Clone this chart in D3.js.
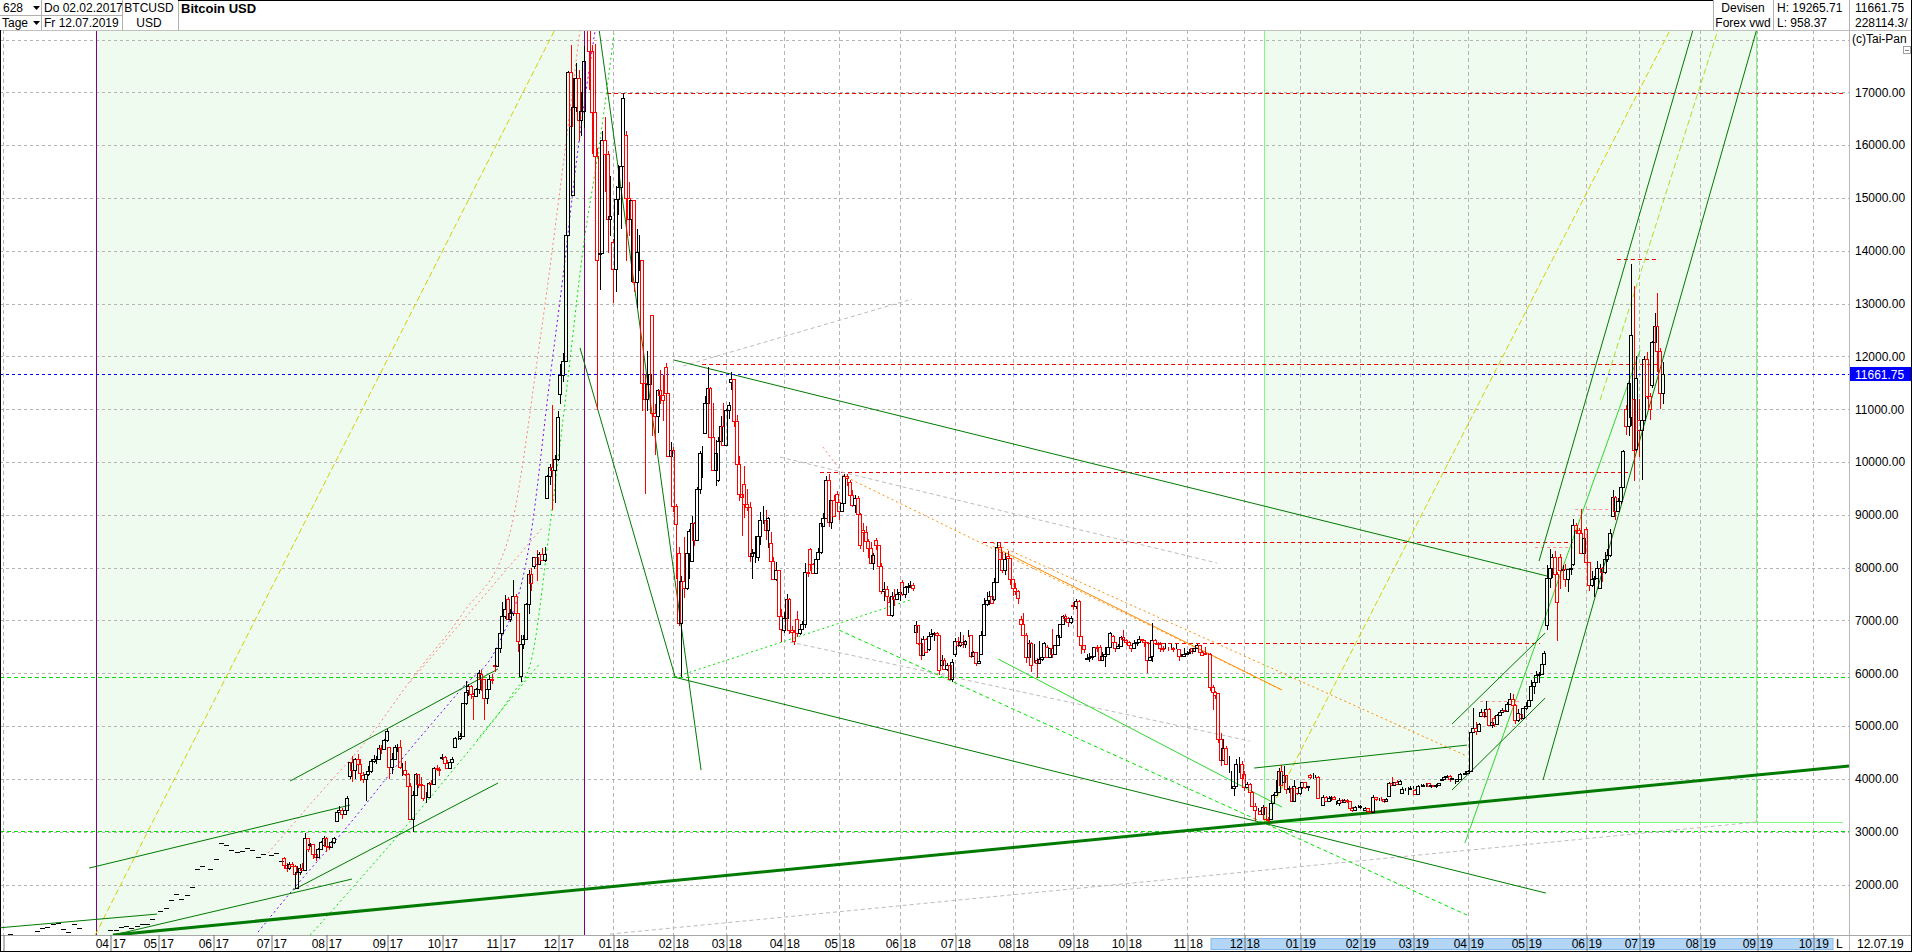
<!DOCTYPE html>
<html><head><meta charset="utf-8">
<script src="https://cdn.jsdelivr.net/npm/d3@7"></script>
<style>
html,body{margin:0;padding:0;background:#fff;overflow:hidden}
svg{display:block}
text{font-family:"Liberation Sans",Arial,sans-serif;font-size:12px;fill:#000}
.narrow{font-family:"Liberation Sans Narrow","Arial Narrow","Liberation Sans",sans-serif}
</style></head><body>
<svg id="chart" width="1912" height="952"></svg>
<script>
// ================= DATA =================
const PRICE_UNIT = 10; // candle / flat-bar values are given in units of 10 USD
const missingDays = ["2017-02-20","2017-04-14","2017-04-17","2017-05-01","2017-05-29"];

// early sparse quotes (open = high = low = close)
const flatBars = [
["2017-02-03",103],["2017-02-07",106],["2017-02-09",99],["2017-02-13",100],["2017-02-15",101],["2017-02-17",105],["2017-02-22",112],["2017-02-24",117],["2017-02-28",119],
["2017-03-02",126],["2017-03-06",128],["2017-03-08",115],["2017-03-10",110],["2017-03-14",125],["2017-03-16",117],["2017-03-20",105],["2017-03-22",105],["2017-03-24",94],["2017-03-28",104],["2017-03-30",104],
["2017-04-03",114],["2017-04-05",113],["2017-04-07",119],["2017-04-11",122],["2017-04-13",118],["2017-04-19",122],["2017-04-21",125],["2017-04-25",126],["2017-04-27",134],
["2017-05-03",149],["2017-05-05",156],["2017-05-09",171],["2017-05-11",182],["2017-05-15",172],["2017-05-17",180],["2017-05-19",196],["2017-05-23",229],["2017-05-25",235],["2017-05-31",230],
["2017-06-02",248],["2017-06-06",278],["2017-06-08",275],["2017-06-12",266],["2017-06-14",262],["2017-06-16",263],["2017-06-20",270],["2017-06-22",266],["2017-06-26",252],["2017-06-28",257],
["2017-07-03",256],["2017-07-05",260],["2017-07-07",245]];

// daily candles [open, high, low, close], consecutive trading days from the given start
const m17_07 = [[250,252,229,237],[237,241,224,231],[231,242,227,238],[238,243,233,235],[235,236,214,220],[193,235,192,223],[223,238,218,232],[232,241,226,228],[228,297,227,288],[288,288,262,267],[275,278,271,276],[276,277,248,258],[258,263,245,253],[253,269,252,267],[267,282,266,280],[275,292,272,288]];
const m17_08 = [[288,290,261,272],[272,276,265,271],[271,282,270,280],[280,290,277,289],[321,342,319,338],[338,348,335,342],[342,344,324,334],[334,345,333,342],[342,368,340,363],[406,432,399,432],[432,443,394,416],[416,440,399,438],[438,448,424,428],[428,437,396,411],[408,413,393,400],[400,414,358,410],[410,425,406,415],[415,437,412,433],[433,446,431,437],[438,444,429,438],[438,464,436,458],[458,464,447,457],[457,475,457,474]];
const m17_09 = [[474,494,469,490],[460,460,400,423],[423,449,410,438],[438,464,437,460],[460,466,450,460],[460,474,418,423],[416,431,405,416],[416,434,405,410],[410,412,377,387],[387,393,322,324],[324,378,300,370],[370,412,369,410],[410,410,383,391],[391,403,386,388],[388,389,358,363],[363,375,355,363],[366,394,365,393],[393,397,389,390],[390,422,390,421],[421,426,414,419],[419,423,405,416]];
const m17_10 = [[440,447,436,441],[441,443,427,431],[431,435,418,421],[421,436,420,432],[432,442,432,437],[461,480,460,477],[477,491,474,478],[478,487,474,482],[482,543,482,543],[543,586,540,565],[568,580,557,575],[575,577,551,561],[561,563,511,557],[557,573,555,570],[570,606,561,600],[598,607,567,590],[590,590,511,553],[553,574,542,570],[570,597,568,589],[589,598,579,588],[615,630,603,613],[613,647,611,647]];
const m17_11 = [[647,690,638,677],[677,735,677,708],[708,749,703,721],[741,745,700,702],[702,721,698,714],[714,777,708,746],[746,750,708,714],[714,714,640,662],[595,673,584,656],[656,672,645,664],[664,733,664,732],[732,796,712,787],[787,800,755,771],[804,821,798,820],[820,834,775,807],[807,830,807,826],[826,838,812,815],[815,839,810,825],[932,975,931,974],[974,997,957,991],[991,1107,909,984],[984,1013,922,1006]];
const m17_12 = [[1006,1096,1002,1086],[1129,1185,1109,1164],[1164,1206,1152,1192],[1192,1435,1189,1429],[1429,1741,1429,1739],[1739,1790,1531,1637],[1506,1728,1506,1673],[1673,1756,1662,1728],[1728,1743,1608,1648],[1648,1700,1617,1664],[1664,1787,1633,1760],[1914,1926,1823,1911],[1911,1911,1704,1778],[1778,1790,1583,1662],[1662,1791,1480,1580],[1580,1594,1098,1383],[1393,1445,1325,1395],[1395,1626,1395,1610],[1610,1653,1512,1584],[1584,1588,1395,1460],[1460,1541,1428,1466]];
const m18_01 = [[1416,1422,1301,1366],[1366,1523,1322,1498],[1498,1563,1468,1520],[1520,1575,1441,1560],[1560,1698,1558,1690],[1620,1626,1381,1499],[1499,1530,1427,1460],[1460,1497,1341,1497],[1497,1497,1322,1340],[1340,1442,1292,1398],[1382,1429,1362,1382],[1382,1382,1096,1149],[1149,1167,940,1119],[1119,1210,1097,1147],[1147,1193,1118,1166],[1278,1278,1050,1093],[1093,1109,1013,1087],[1087,1139,1054,1136],[1136,1174,1110,1126],[1126,1164,1078,1117],[1179,1187,1128,1130],[1130,1130,1010,1011],[1011,1038,975,1022]];
const m18_02 = [[1022,1029,905,917],[917,921,778,883],[828,839,690,696],[696,785,593,775],[775,858,743,762],[762,836,758,827],[827,874,779,869],[813,898,813,885],[885,887,841,853],[853,952,853,948],[948,1021,940,1017],[1017,1030,969,1018],[1055,1125,1055,1112],[1112,1179,1112,1140],[1140,1142,1046,1048],[1048,1112,983,985],[985,1042,955,1018],[966,1048,962,1040],[1040,1088,1031,1069],[1069,1112,1030,1033]];
const m18_03 = [[1033,1101,1033,1098],[1098,1114,1081,1107],[1151,1171,1136,1157],[1157,1157,1066,1078],[1078,1089,955,997],[997,1011,927,940],[940,943,859,934],[958,992,894,920],[920,948,908,914],[914,924,810,822],[822,836,779,827],[827,860,809,829],[820,870,812,860],[860,905,842,890],[890,917,882,890],[890,910,852,872],[872,896,838,894],[847,867,805,813],[813,821,777,779],[779,810,775,795],[795,796,701,709],[709,722,659,684]];
const m18_04 = [[681,716,677,705],[705,751,703,741],[741,742,675,681],[681,690,660,678],[678,681,654,662],[702,718,668,677],[677,690,673,683],[683,699,681,694],[694,809,686,792],[792,818,782,789],[836,838,794,806],[806,808,787,789],[789,823,789,816],[816,838,816,829],[829,890,825,885],[879,903,878,894],[894,974,894,965],[965,977,877,887],[887,929,873,928],[928,937,897,898],[939,946,919,924]];
const m18_05 = [[924,924,890,907],[907,926,906,922],[922,978,921,974],[974,978,955,970],[962,966,929,937],[937,947,914,919],[919,937,904,931],[931,936,900,901],[901,904,835,843],[871,884,829,868],[868,879,846,851],[851,854,818,837],[837,849,808,809],[809,827,795,823],[853,857,834,842],[842,843,802,804],[804,808,751,756],[756,773,736,759],[759,765,733,746],[735,744,708,710],[710,753,706,747],[747,760,728,741],[741,760,738,750]];
const m18_06 = [[750,762,736,754],[772,776,747,750],[750,765,743,763],[763,770,752,765],[765,775,762,768],[768,770,756,762],[679,699,674,691],[691,691,654,658],[658,666,625,635],[635,671,634,664],[664,666,638,640],[646,679,642,671],[671,683,669,674],[674,679,661,677],[677,679,671,672],[672,673,596,606],[615,634,609,625],[625,629,606,609],[609,620,604,616],[616,617,589,590],[590,627,583,622]];
const m18_07 = [[636,667,630,662],[662,668,649,653],[653,678,650,660],[660,673,648,655],[655,663,647,661],[672,681,668,672],[672,673,629,632],[632,642,630,640],[640,640,613,620],[620,634,617,624],[636,680,634,672],[672,743,671,732],[732,754,727,738],[738,755,729,747],[747,762,731,733],[740,780,737,772],[772,848,770,839],[839,847,806,817],[817,829,790,795],[795,828,786,817],[822,832,791,818],[818,819,768,778]];
const m18_08 = [[778,778,746,762],[762,770,748,756],[756,757,732,742],[703,709,685,694],[694,715,671,672],[672,676,620,631],[631,663,630,657],[657,660,603,615],[626,655,620,626],[626,629,591,620],[620,661,618,627],[627,647,624,631],[631,660,630,658],[650,654,629,630],[630,648,630,647],[647,684,629,636],[636,654,636,653],[653,673,651,672],[669,694,668,693],[693,711,692,709],[709,713,697,705],[705,706,687,698],[698,709,694,705]];
const m18_09 = [[730,734,719,727],[727,740,722,737],[737,738,668,670],[670,670,636,653],[653,654,638,645],[627,637,625,629],[629,639,622,630],[630,634,625,633],[633,650,632,649],[649,653,640,648],[650,654,623,625],[625,640,625,633],[633,650,612,637],[637,652,634,649],[649,679,649,677],[671,672,657,659],[659,659,640,648],[648,656,645,651],[651,670,650,668],[668,681,661,664]];
const m18_10 = [[663,664,654,659],[659,662,650,653],[653,654,641,648],[648,663,648,658],[658,664,651,660],[660,671,659,664],[664,665,659,663],[663,663,650,659],[659,659,600,626],[626,640,623,630],[633,696,622,663],[663,664,654,658],[658,660,650,655],[655,660,640,648],[648,652,640,646],[648,658,645,648],[648,650,642,647],[647,655,646,648],[648,649,640,646],[646,655,645,646],[646,646,624,633],[633,636,630,633],[633,647,630,636]];
const m18_11 = [[636,643,634,638],[638,646,637,641],[648,648,637,642],[642,647,640,647],[647,655,646,653],[653,654,637,641],[641,642,632,635],[638,649,636,637],[637,638,632,636],[636,639,567,574],[574,578,530,565],[565,566,551,558],[562,563,468,476],[476,486,424,435],[435,475,433,459],[459,463,428,429],[429,443,412,429],[382,414,380,382],[382,394,368,386],[386,437,385,428],[428,441,411,428],[428,433,396,402]];
const m18_12 = [[409,414,378,384],[384,395,382,391],[391,392,374,376],[376,377,347,349],[349,355,321,342],[340,345,336,340],[340,342,333,334],[334,350,333,347],[347,347,323,324],[324,328,317,323],[324,360,322,354],[354,372,352,370],[370,398,370,376],[376,420,374,414],[414,427,386,388],[394,424,394,408],[408,408,372,380],[380,387,374,383],[383,384,357,358],[358,397,357,386],[383,383,370,374]];
const m19_01 = [[374,385,370,384],[384,395,381,394],[394,394,380,384],[384,387,378,386],[407,409,400,403],[403,411,400,404],[404,407,401,404],[404,406,361,363],[363,366,357,363],[351,369,350,366],[366,368,356,358],[358,367,358,363],[363,368,358,366],[366,368,360,362],[354,358,350,355],[355,363,349,360],[360,362,355,356],[356,361,355,360],[360,361,355,359],[358,359,342,344],[344,347,338,341],[341,348,340,346],[346,350,344,346]];
const m19_02 = [[346,351,343,349],[341,344,339,342],[342,346,341,344],[344,344,339,340],[340,342,337,338],[338,370,338,365],[366,366,359,361],[361,364,359,362],[362,365,359,361],[361,361,355,358],[358,364,357,361],[368,394,367,392],[392,404,386,388],[388,395,386,394],[394,397,388,390],[390,398,389,396],[374,385,372,380],[380,382,377,380],[380,384,369,381],[381,387,380,382]];
const m19_03 = [[382,386,381,383],[379,380,369,371],[371,388,370,386],[386,390,384,387],[387,391,386,388],[388,392,384,388],[393,393,384,386],[386,389,382,388],[388,389,385,387],[387,391,383,388],[388,392,388,392],[398,403,396,399],[399,405,398,403],[403,407,401,405],[405,407,395,399],[399,402,398,401],[396,397,390,396],[396,400,395,400],[400,411,399,410],[410,411,407,410],[410,414,409,411]];
const m19_04 = [[411,416,410,415],[415,497,414,488],[488,535,486,497],[497,508,484,491],[491,506,490,503],[520,532,517,527],[527,527,516,520],[520,547,518,533],[533,534,500,502],[502,510,497,507],[516,520,499,504],[504,523,503,521],[521,530,520,527],[527,535,525,530],[530,536,526,529],[529,546,528,542],[542,562,540,552],[552,560,536,540],[540,542,504,511],[511,532,508,525],[523,524,512,516],[516,535,516,534]];
const m19_05 = [[534,545,530,538],[538,556,537,549],[549,587,549,575],[575,596,560,584],[584,604,584,597],[597,602,582,598],[598,619,598,617],[617,643,617,638],[691,805,681,781],[781,836,761,799],[799,825,781,821],[821,832,769,788],[788,792,661,735],[820,826,759,796],[796,805,782,798],[798,807,763,778],[778,798,754,798],[798,812,786,800],[806,893,804,880],[880,884,864,872],[872,875,848,866],[866,911,831,828],[828,862,813,856]];
const m19_06 = [[874,876,808,810],[810,810,755,767],[767,793,764,778],[778,785,745,780],[780,812,780,800],[762,806,759,800],[800,802,773,792],[792,830,788,816],[816,835,811,824],[824,873,820,865],[897,947,895,933],[933,935,890,908],[908,932,905,927],[927,960,920,953],[953,1023,951,1021],[1100,1107,1051,1069],[1069,1160,1050,1150],[1085,1375,1069,1240],[1120,1334,964,1023],[1025,1200,1020,1160]];
const m19_07 = [[1080,1120,1010,1060],[1060,1090,965,1080],[1080,1200,1078,1195],[1195,1208,1120,1125],[1125,1130,1080,1100],[1145,1230,1140,1228],[1228,1282,1215,1258],[1258,1320,1170,1210],[1210,1215,1100,1130],[1130,1190,1110,1166]];
const candleMonths = [["2017-07-10",m17_07],["2017-08-01",m17_08],["2017-09-01",m17_09],["2017-10-02",m17_10],["2017-11-01",m17_11],["2017-12-01",m17_12],["2018-01-01",m18_01],["2018-02-01",m18_02],["2018-03-01",m18_03],["2018-04-02",m18_04],["2018-05-01",m18_05],["2018-06-01",m18_06],["2018-07-02",m18_07],["2018-08-01",m18_08],["2018-09-03",m18_09],["2018-10-01",m18_10],["2018-11-01",m18_11],["2018-12-03",m18_12],["2019-01-01",m19_01],["2019-02-01",m19_02],["2019-03-01",m19_03],["2019-04-01",m19_04],["2019-05-01",m19_05],["2019-06-03",m19_06],["2019-07-01",m19_07]];

// price-axis ticks and last quote
const yTicks = [2000,3000,4000,5000,6000,7000,8000,9000,10000,11000,12000,13000,14000,15000,16000,17000,18000];
const lastPrice = 11661.75;
const tickMonthsFrom = "2017-04", tickMonthsTo = "2019-10";

// drawing tools: points are [bar index, price]
const thickSupport = [[42.0,1042],[701.8,4243]];
const darkGreenLines = [
 [[-0.96,1181],[58.7,1440]], [[32.9,2311],[132.1,3504]], [[42.0,1042],[132.8,2103]],
 [[109.3,3959],[188.3,6080]], [[110.4,1895],[188.3,3921]],
 [[225.2,18748],[265.5,4167]], [[219.5,12158],[255.6,5938]],
 [[255.2,11931],[587.0,7841]], [[255.2,5928],[586.6,1838]],
 [[475.7,4205],[556.6,4640]], [[550.9,5038],[586.3,6761]], [[550.9,3788],[586.3,5530]],
 [[585.5,3978],[671.0,18937]], [[584.0,8125],[646.9,18937]]];
const lightGreenLines = [[[378.4,6269],[486.3,3466]], [[555.8,2785],[622.4,12120]]];
const limeDashedLines = [[[317.9,6818],[556.6,1422]]];
const limeDottedLines = [
 [[116.9,1042],[151.1,2974],[171.2,4167],[194.0,5625],[200.5,6155],[208.1,8806],[214.5,11420],[220.6,14014],[227.1,16097],[232.4,18104]],
 [[180.3,4735],[204.3,6193]], [[255.6,5928],[344.9,7386]]];
const yellowDashedLines = [[[35.2,1042],[217.6,18937]], [[479.5,3182],[641.6,18937]]];
const yellowGreenDashedLines = [[[607.2,11173],[652.0,18180]]];
const salmonDottedLines = [
 [[100.9,2595],[120.7,3732],[138.5,4735],[156.0,5928],[175.0,7140],[192.1,8522],[204.3,12310],[213.8,15907],[219.5,18199]],
 [[154.9,5833],[205.4,8768]], [[311.8,10285],[318.3,9849]]];
const purpleDottedLines = [
 [[97.1,1099],[111.2,1951],[130.9,3088],[153.7,4489],[175.0,5739],[187.9,6496],[200.5,8522],[208.1,11590],[213.0,13503],[218.3,15756],[225.2,18161]]];
const greyDashedLines = [[[258.6,11817],[345.7,13086]], [[295.5,10094],[461.6,8087]], [[299.3,6591],[474.1,4716]], [[230.9,1061],[666.4,3182]]];
const orangeDottedLines = [[[319.1,9753],[486.3,5682]], [[376.5,8466],[556.6,4432]]];
const orangeSolidLines = [[[376.5,8400],[486.3,5682]]];
const redLevels = [[16980,229.8,699.5],[11848,265.9,629.2],[9804,310.7,617.8],[8479,372.7,596.9],[6566,435.0,584.4],[13843,613.6,628.8]];
const lightRedLevels = [[9119,597.7,610.2],[8400,582.5,596.9],[5480,561.6,576.8]];
const limeLevels = [5928, 3021];
const box2017 = [35.5, 221.0, 958.37, 19265.71];
const box2019 = [479.5, 666.4, 3182, 19265.71];
const box2019BaseEnd = 699.5;

// header texts
const headerLeft = [["628",3,12],["Tage",2,27],["Do 02.02.2017",44,12],["Fr 12.07.2019",44,27]];
const headerSym = [["BTCUSD",149,12],["USD",149,27]];
const headerTitle = "Bitcoin USD";
const headerRight = [["Devisen",1743,12,"middle"],["Forex vwd",1743,27,"middle"],["H: 19265.71",1777,12,"start"],["L: 958.37",1777,27,"start"],["11661.75",1855,12,"start"],["228114.3/",1855,27,"start"]];
const lastDateLabel = "12.07.19";

// ================= LAYOUT =================
const W = 1912, H = 952, X0 = 0, X1 = 1849, Y0 = 30, Y1 = 935;
const xDomain = [-0.96, 701.8], yDomain = [1044, 18180];

// trading calendar (weekdays without missing quote days)
const days = [];
for (let t = Date.UTC(2017,1,2); t <= Date.UTC(2019,11,31); t += 864e5) {
  const d = new Date(t), wd = d.getUTCDay(), s = d.toISOString().slice(0,10);
  if (wd === 0 || wd === 6 || missingDays.includes(s)) continue;
  days.push(s);
}
const idx = new Map(days.map((s,i)=>[s,i]));

const bars = [];
flatBars.forEach(([d,v]) => bars.push({i: idx.get(d), o:v*PRICE_UNIT, h:v*PRICE_UNIT, l:v*PRICE_UNIT, c:v*PRICE_UNIT, flat:true}));
candleMonths.forEach(([start, arr]) => {
  let k = idx.get(start);
  arr.forEach(b => { bars.push({i:k, o:b[0]*PRICE_UNIT, h:b[1]*PRICE_UNIT, l:b[2]*PRICE_UNIT, c:b[3]*PRICE_UNIT}); k++; });
});

const x = d3.scaleLinear().domain(xDomain).range([X0, X1]);
const y = d3.scaleLinear().domain(yDomain).range([Y1, Y0]);
const svg = d3.select("#chart");

svg.append("defs").append("clipPath").attr("id","clip")
  .append("rect").attr("x",X0).attr("y",Y0).attr("width",X1-X0).attr("height",Y1-Y0);
const plot = svg.append("g").attr("clip-path","url(#clip)");

// tick months
const tickIdx = [0];
{
  const seen = new Set();
  days.forEach((s,i) => { const m = s.slice(0,7); if (!seen.has(m)) { seen.add(m); if (m >= tickMonthsFrom && m <= tickMonthsTo) tickIdx.push(i); } });
}

// 2019 box (below vertical grid)
const fillGreen = "#effbef";
plot.append("rect").attr("x",x(box2019[0])).attr("width",x(box2019[1])-x(box2019[0]))
  .attr("y",y(box2019[3])).attr("height",y(box2019[2])-y(box2019[3])).attr("fill",fillGreen);

// vertical grid
plot.append("g").selectAll("line").data(tickIdx).join("line")
  .attr("x1",d=>Math.round(x(d))+0.5).attr("x2",d=>Math.round(x(d))+0.5).attr("y1",Y0).attr("y2",Y1)
  .attr("stroke","#b4b4b4").attr("stroke-dasharray","4,3");

// 2017 box
plot.append("rect").attr("x",x(box2017[0])).attr("width",x(box2017[1])-x(box2017[0]))
  .attr("y",y(box2017[3])).attr("height",y(box2017[2])-y(box2017[3])).attr("fill",fillGreen);

// horizontal grid
plot.append("g").selectAll("line").data(yTicks).join("line")
  .attr("x1",X0).attr("x2",X1).attr("y1",d=>Math.round(y(d))+0.5).attr("y2",d=>Math.round(y(d))+0.5)
  .attr("stroke","#b4b4b4").attr("stroke-dasharray","3,3");

// box borders
[box2017[0], box2017[1]].forEach(i => plot.append("line").attr("x1",Math.round(x(i))+0.5).attr("x2",Math.round(x(i))+0.5)
  .attr("y1",y(box2017[3])).attr("y2",y(box2017[2])).attr("stroke","#800080"));
[box2019[0], box2019[1]].forEach(i => plot.append("line").attr("x1",Math.round(x(i))+0.5).attr("x2",Math.round(x(i))+0.5)
  .attr("y1",y(box2019[3])).attr("y2",Math.round(y(box2019[2]))+0.5).attr("stroke","#80f880"));
plot.append("line").attr("x1",x(box2019[0])).attr("x2",x(box2019BaseEnd))
  .attr("y1",Math.round(y(box2019[2]))+0.5).attr("y2",Math.round(y(box2019[2]))+0.5).attr("stroke","#80f880");

// horizontal levels
limeLevels.forEach(p => plot.append("line").attr("x1",X0).attr("x2",X1)
  .attr("y1",Math.round(y(p))+0.5).attr("y2",Math.round(y(p))+0.5).attr("stroke","#00e000").attr("stroke-dasharray","4,3"));
redLevels.forEach(([p,a,b]) => plot.append("line").attr("x1",x(a)).attr("x2",x(b))
  .attr("y1",Math.round(y(p))+0.5).attr("y2",Math.round(y(p))+0.5).attr("stroke","#ee0000").attr("stroke-dasharray","4,3"));
lightRedLevels.forEach(([p,a,b]) => plot.append("line").attr("x1",x(a)).attr("x2",x(b))
  .attr("y1",Math.round(y(p))+0.5).attr("y2",Math.round(y(p))+0.5).attr("stroke","#ff9090").attr("stroke-dasharray","3,3"));

// trend lines
const lineGen = d3.line().x(d=>x(d[0])).y(d=>y(d[1])).curve(d3.curveMonotoneX);
function drawLines(list, color, width, dash) {
  plot.append("g").selectAll("path").data(list).join("path")
    .attr("d", lineGen).attr("fill","none").attr("stroke",color).attr("stroke-width",width)
    .attr("stroke-dasharray", dash || null);
}
drawLines(greyDashedLines, "#bcbcbc", 1, "4,3");
drawLines(yellowDashedLines, "#d2d200", 1, "6,3");
drawLines(yellowGreenDashedLines, "#a6e22a", 1, "6,3");
drawLines(salmonDottedLines, "#ff7f7f", 1, "2,3");
drawLines(purpleDottedLines, "#8000ff", 1, "2,3");
drawLines(limeDottedLines, "#00e400", 1, "2,3");
drawLines(limeDashedLines, "#00e400", 1, "4,3");
drawLines(orangeDottedLines, "#ff8c00", 1, "2,3");
drawLines(orangeSolidLines, "#ff8c00", 1);
drawLines(lightGreenLines, "#2ed82e", 1);
drawLines(darkGreenLines, "#007a00", 1);
drawLines([thickSupport], "#007a00", 3);

// last price line
const yLast = Math.round(y(lastPrice)) + 0.5;
plot.append("line").attr("x1",X0).attr("x2",X1).attr("y1",yLast).attr("y2",yLast)
  .attr("stroke","#0000ff").attr("stroke-dasharray","3,3");

// candles
const gC = plot.append("g").attr("shape-rendering","crispEdges");
bars.forEach(b => {
  const cx = Math.round(x(b.i));
  const up = b.c >= b.o;
  const col = up ? "#000000" : "#ff0000";
  if (b.flat) {
    const yy = Math.round(y(b.c)) + 0.5;
    gC.append("line").attr("x1",cx-2).attr("x2",cx+3).attr("y1",yy).attr("y2",yy).attr("stroke","#000");
    return;
  }
  const yt = Math.round(y(Math.max(b.o,b.c))), yb = Math.round(y(Math.min(b.o,b.c)));
  const yh = Math.round(y(b.h)), yl = Math.round(y(b.l));
  if (yh < yt) gC.append("line").attr("x1",cx+0.5).attr("x2",cx+0.5).attr("y1",yh).attr("y2",yt).attr("stroke",col);
  if (yl > yb) gC.append("line").attr("x1",cx+0.5).attr("x2",cx+0.5).attr("y1",yb).attr("y2",yl).attr("stroke",col);
  gC.append("rect").attr("x",cx-1.5).attr("y",yt+0.5).attr("width",3).attr("height",Math.max(0,yb-yt))
    .attr("fill","none").attr("stroke",col);
});

// ---------- frame / axes ----------
svg.append("line").attr("x1",0).attr("x2",W).attr("y1",Y0+0.5).attr("y2",Y0+0.5).attr("stroke","#c0c0c0");
svg.append("line").attr("x1",X1+0.5).attr("x2",X1+0.5).attr("y1",Y0).attr("y2",H).attr("stroke","#b8b8b8");
svg.append("line").attr("x1",0).attr("x2",W).attr("y1",Y1+0.5).attr("y2",Y1+0.5).attr("stroke","#a8a8a8");

// y axis
const yAxis = d3.axisRight(y).tickValues(yTicks).tickFormat(d3.format(".2f")).tickSize(0).tickPadding(6);
const gy = svg.append("g").attr("transform",`translate(${X1},0)`).call(yAxis);
gy.select(".domain").remove();
gy.selectAll("text").attr("font-size",12).attr("font-family","Liberation Sans, Arial, sans-serif").attr("fill","#000");

// last price badge
svg.append("rect").attr("x",X1+1).attr("y",yLast-7.5).attr("width",W-X1-2).attr("height",14).attr("fill","#0000ff");
svg.append("text").attr("x",X1+6).attr("y",yLast+4.5).attr("fill","#fff").style("fill","#fff").text(d3.format(".2f")(lastPrice));

// copyright overlay
svg.append("rect").attr("x",X1+1).attr("y",Y0+1).attr("width",W-X1-2).attr("height",14).attr("fill","#fff");
svg.append("text").attr("x",X1+3).attr("y",Y0+13).text("(c)Tai-Pan");
svg.append("rect").attr("x",1903.5).attr("y",46.5).attr("width",7).attr("height",7).attr("fill","#fff").attr("stroke","#a0a0a0");
svg.append("line").attr("x1",1905).attr("x2",1909).attr("y1",50.5).attr("y2",50.5).attr("stroke","#808080");

// x axis band
svg.append("rect").attr("x",1211).attr("y",Y1+3.5).attr("width",622).attr("height",11).attr("fill","#b3d6f6").attr("stroke","#86b8e8");
const xAxis = d3.axisBottom(x).tickValues(tickIdx).tickSize(16).tickFormat("");
const gx = svg.append("g").attr("transform",`translate(0,${Y1})`).call(xAxis);
gx.select(".domain").remove();
gx.selectAll(".tick line").attr("stroke","#707070").attr("transform",d=>`translate(${Math.round(x(d))+0.5-x(d)},0)`);
const gl = svg.append("g").attr("class","narrow");
tickIdx.forEach(i => {
  const px = Math.round(x(i)) + 0.5;
  if (px < 20) return;
  const s = days[i];
  gl.append("text").attr("class","narrow").attr("x",px-1.5).attr("y",H-4).attr("text-anchor","end").text(s.slice(5,7));
  gl.append("text").attr("class","narrow").attr("x",px+2).attr("y",H-4).text(s.slice(2,4));
});
svg.append("text").attr("x",1836).attr("y",H-4).text("L");
svg.append("text").attr("x",1857).attr("y",H-4).text(lastDateLabel);

// header
const hdr = svg.append("g");
[[0,15.5,122,15.5]].forEach(([a,b,c,d]) => hdr.append("line").attr("x1",a).attr("y1",b).attr("x2",c).attr("y2",d).attr("stroke","#b0b0b0"));
[41.5,122.5,178.5,1713.5,1773.5,1849.5].forEach(v => hdr.append("line").attr("x1",v).attr("x2",v).attr("y1",0).attr("y2",Y0).attr("stroke","#b0b0b0"));
hdr.append("line").attr("x1",178).attr("x2",1713).attr("y1",0.5).attr("y2",0.5).attr("stroke","#000");
headerLeft.forEach(([t,a,b]) => hdr.append("text").attr("x",a).attr("y",b).text(t));
[[33,6],[33,21]].forEach(([a,b]) => hdr.append("path").attr("d",`M${a},${b}h7l-3.5,4z`).attr("fill","#000"));
headerSym.forEach(([t,a,b]) => hdr.append("text").attr("x",a).attr("y",b).attr("text-anchor","middle").text(t));
hdr.append("text").attr("x",181).attr("y",13).attr("font-weight","bold").style("font-size","13px").text(headerTitle);
headerRight.forEach(([t,a,b,anc]) => hdr.append("text").attr("x",a).attr("y",b).attr("text-anchor",anc).text(t));

// outer frame
svg.append("line").attr("x1",0.5).attr("x2",0.5).attr("y1",Y0).attr("y2",H).attr("stroke","#000");
svg.append("line").attr("x1",0).attr("x2",W).attr("y1",H-0.5).attr("y2",H-0.5).attr("stroke","#000");
svg.append("line").attr("x1",W-0.5).attr("x2",W-0.5).attr("y1",0).attr("y2",H).attr("stroke","#000");
</script></body></html>
